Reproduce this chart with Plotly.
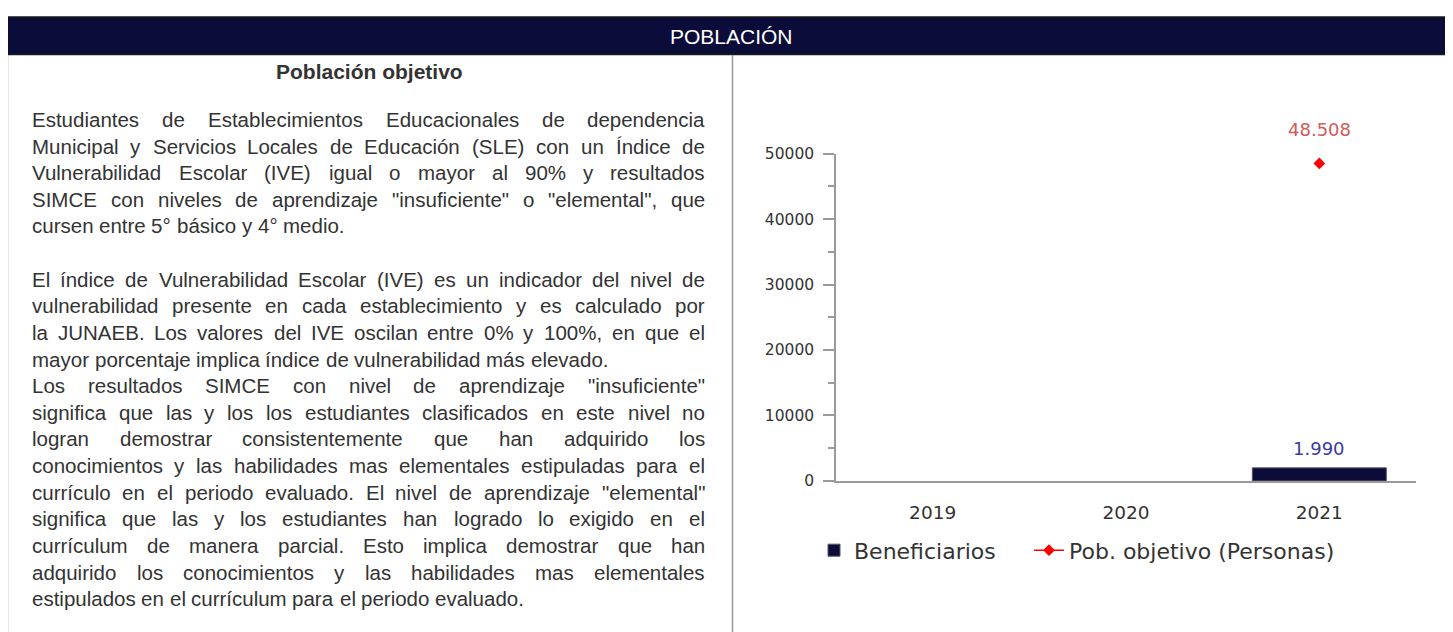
import plotly.graph_objects as go

W, H = 1453, 632
OX, OY = 8, 8  # page body margin: figure is drawn 8px right/down in the page

# ---------------- data ----------------
years = ["2019", "2020", "2021"]
beneficiarios = [None, None, 1990]
pob_objetivo = [None, None, 48508]
y_tick_vals = [0, 10000, 20000, 30000, 40000, 50000]
series_names = ["Beneficiarios", "Pob. objetivo (Personas)"]

header_title = "POBLACIÓN"
panel_title = "Población objetivo"
# (line text, justified?, line index)
text_lines = [
    ("Estudiantes de Establecimientos Educacionales de dependencia", True, 0),
    ("Municipal y Servicios Locales de Educación (SLE) con un Índice de", True, 1),
    ("Vulnerabilidad Escolar (IVE) igual o mayor al 90% y resultados", True, 2),
    ("SIMCE con niveles de aprendizaje \"insuficiente\" o \"elemental\", que", True, 3),
    ("cursen entre 5° básico y 4° medio.", False, 4),
    ("El índice de Vulnerabilidad Escolar (IVE) es un indicador del nivel de", True, 6),
    ("vulnerabilidad presente en cada establecimiento y es calculado por", True, 7),
    ("la JUNAEB. Los valores del IVE oscilan entre 0% y 100%, en que el", True, 8),
    ("mayor porcentaje implica índice de vulnerabilidad más elevado.", False, 9),
    ("Los resultados SIMCE con nivel de aprendizaje \"insuficiente\"", True, 10),
    ("significa que las y los los estudiantes clasificados en este nivel no", True, 11),
    ("logran demostrar consistentemente que han adquirido los", True, 12),
    ("conocimientos y las habilidades mas elementales estipuladas para el", True, 13),
    ("currículo en el periodo evaluado. El nivel de aprendizaje \"elemental\"", True, 14),
    ("significa que las y los estudiantes han logrado lo exigido en el", True, 15),
    ("currículum de manera parcial. Esto implica demostrar que han", True, 16),
    ("adquirido los conocimientos y las habilidades mas elementales", True, 17),
    ("estipulados en el currículum para el periodo evaluado.", False, 18),
]

# ---------------- styling ----------------
NAVY = "#0c0c3a"
TEXT = "#333333"
AXIS = "#9a9a9a"
BODY_FONT = "Liberation Sans, Arial, sans-serif"
CHART_FONT = "DejaVu Sans, sans-serif"
FS = 20.5
TXT_L, TXT_R = 32, 705
LINE_Y0, LINE_DY = 113.5, 27.4

# Arial / Liberation Sans advance widths (per 1000 em)
AW = {' ': 278, '"': 355, '%': 889, '(': 333, ')': 333, ',': 278, '.': 278, '°': 400, ':': 278}
for ch in "0123456789": AW[ch] = 556
for ch in "abdeghnopqu": AW[ch] = 556
for ch in "cksvxyz": AW[ch] = 500
AW.update({'f': 278, 'i': 222, 'j': 222, 'l': 222, 'm': 833, 'r': 333, 't': 278, 'w': 722})
AW.update({'A': 667, 'B': 667, 'C': 722, 'D': 722, 'E': 667, 'F': 611, 'G': 778, 'H': 722, 'I': 278,
           'J': 500, 'K': 667, 'L': 556, 'M': 833, 'N': 722, 'O': 778, 'P': 667, 'Q': 778, 'R': 722,
           'S': 667, 'T': 611, 'U': 722, 'V': 667, 'W': 944, 'X': 667, 'Y': 667, 'Z': 611})
AW.update({'á': 556, 'é': 556, 'ó': 556, 'ú': 556, 'í': 278, 'Í': 278, 'Ó': 778})


def tw(s, fs):
    return sum(AW.get(c, 556) for c in s) * fs / 1000.0


def px(x):
    return (x - OX) / W


def py(y):
    return 1 - (y - OY) / H


annotations = []
shapes = []

# header bar
shapes.append(dict(type="rect", xref="paper", yref="paper", x0=px(7), x1=px(1470), y0=py(46.5), y1=py(8),
                   fillcolor=NAVY, line=dict(color="#1a1a1a", width=1.5), layer="below"))
annotations.append(dict(x=px(731), y=py(28), xref="paper", yref="paper", text=header_title, showarrow=False,
                        xanchor="center", yanchor="middle",
                        font=dict(family=BODY_FONT, size=21, color="white")))
# panel borders
for xx in (7.5, 732.5):
    shapes.append(dict(type="line", xref="paper", yref="paper", x0=px(xx), x1=px(xx), y0=py(47), y1=py(650),
                       line=dict(color=AXIS, width=1.5)))

# panel title
annotations.append(dict(x=px(369.5), y=py(64.5), xref="paper", yref="paper", text="<b>%s</b>" % panel_title,
                        showarrow=False, xanchor="center", yanchor="middle",
                        font=dict(family=BODY_FONT, size=21, color=TEXT)))

# body text, justified word by word
for line, just, idx in text_lines:
    yc = LINE_Y0 + idx * LINE_DY
    words = line.split(" ")
    widths = [tw(w, FS) for w in words]
    if just and len(words) > 1:
        gap = (TXT_R - TXT_L - sum(widths)) / (len(words) - 1)
    else:
        gap = tw(" ", FS)
    x = TXT_L
    for i, (wd, wv) in enumerate(zip(words, widths)):
        if i == 0:
            xa, xp = "left", x
        elif just and i == len(words) - 1:
            xa, xp = "right", TXT_R
        else:
            xa, xp = "center", x + wv / 2
        annotations.append(dict(x=px(xp), y=py(yc), xref="paper", yref="paper", text=wd, showarrow=False,
                                xanchor=xa, yanchor="middle", borderpad=0, borderwidth=0,
                                font=dict(family=BODY_FONT, size=FS, color=TEXT)))
        x += wv + gap

# ---------------- chart ----------------
fig = go.Figure()
fig.add_trace(go.Bar(x=years, y=beneficiarios, name=series_names[0], width=0.693, legend="legend",
                     marker=dict(color=NAVY, line=dict(color="#555566", width=1))))
fig.add_trace(go.Scatter(x=years, y=pob_objetivo, name=series_names[1], mode="lines+markers", legend="legend2",
                         line=dict(color="red", width=1.5),
                         marker=dict(symbol="diamond", size=9, color="red")))


def fmt(v):
    return "{:,}".format(v).replace(",", ".")


for i, yv in enumerate(beneficiarios):
    if yv is not None:
        annotations.append(dict(x=i, y=yv, xref="x", yref="y", text=fmt(yv), showarrow=False,
                                yanchor="middle", yshift=19,
                                font=dict(family=CHART_FONT, size=18, color="#3a3aa0")))
for i, yv in enumerate(pob_objetivo):
    if yv is not None:
        annotations.append(dict(x=i, y=yv, xref="x", yref="y", text=fmt(yv), showarrow=False,
                                yanchor="middle", yshift=33.5,
                                font=dict(family=CHART_FONT, size=18, color="#d05a5a")))

legend_common = dict(orientation="h", yanchor="middle", xanchor="left", bgcolor="rgba(0,0,0,0)",
                     font=dict(family=CHART_FONT, size=22, color=TEXT))

fig.update_layout(
    width=W, height=H,
    margin=dict(l=0, r=0, t=0, b=0),
    paper_bgcolor="white", plot_bgcolor="white",
    showlegend=True,
    legend=dict(x=px(814), y=py(557), **legend_common),
    legend2=dict(x=px(1029), y=py(557), **legend_common),
    xaxis=dict(domain=[px(836), px(1416)], type="category", range=[-0.5, 2.5],
               showline=True, linecolor=AXIS, linewidth=1.5, showgrid=False, zeroline=False,
               ticks="", ticklabelstandoff=14,
               tickfont=dict(family=CHART_FONT, size=18.5, color=TEXT)),
    yaxis=dict(domain=[py(485.5), py(148.7)], range=[0, 50000], tickvals=y_tick_vals, tickformat="d",
               showline=True, linecolor=AXIS, linewidth=1.5, showgrid=False, zeroline=False,
               ticks="outside", ticklen=11, tickcolor=AXIS, tickwidth=1.5, ticklabelstandoff=6,
               tickfont=dict(family=CHART_FONT, size=15.5, color=TEXT),
               minor=dict(dtick=5000, ticks="outside", ticklen=6, tickcolor=AXIS, tickwidth=1.5, showgrid=False)),
    annotations=annotations,
    shapes=shapes,
)

fig.write_html("out.html")
